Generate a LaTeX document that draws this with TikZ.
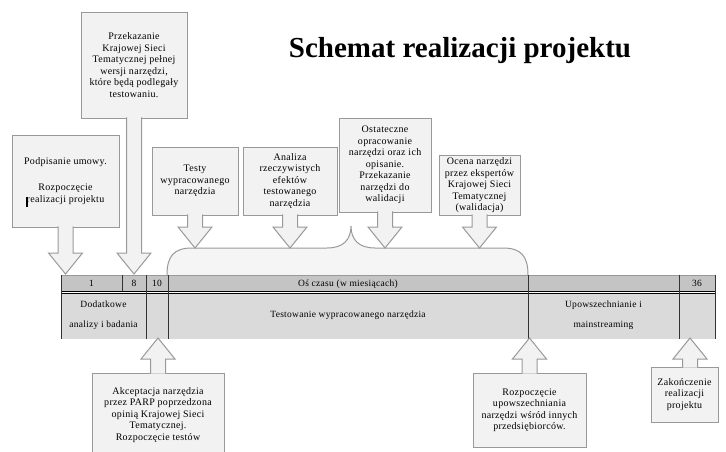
\documentclass[tikz,border=0pt]{standalone}
\usepackage{fontspec}
\setmainfont{Liberation Serif}[LetterSpace=3]
\newfontfamily\titlefont{Liberation Serif}
\usetikzlibrary{calc}
\definecolor{boxfill}{HTML}{F2F2F2}
\definecolor{boxline}{HTML}{999999}
\definecolor{axisfill}{HTML}{C4C4C4}
\definecolor{rowfill}{HTML}{DADADA}
\definecolor{bracefill}{HTML}{F5F5F5}
\definecolor{tabline}{HTML}{333333}
\newcommand{\blockarrow}[2]{%
  \path ($(#1)!-1.2pt!(#2)$) coordinate (hs) ($(#2)!21pt!(#1)$) coordinate (hb);
  \path[barrow] ($(hs)!7.5pt!90:(#2)$) -- ($(hb)!7.5pt!90:(#2)$) -- ($(hb)!17pt!90:(#2)$) -- (#2)
    -- ($(hb)!17pt!-90:(#2)$) -- ($(hb)!7.5pt!-90:(#2)$) -- ($(hs)!7.5pt!-90:(#2)$);}

\begin{document}
\begin{tikzpicture}[x=1pt,y=-1pt,
  box/.style={draw=boxline,fill=boxfill,line width=1pt,align=center,inner sep=2pt,font=\fontsize{10}{11.5}\selectfont},
  barrow/.style={draw=boxline,fill=boxfill,line width=1pt,line join=miter},
  cell/.style={font=\fontsize{9.5}{11}\selectfont,inner sep=1pt,align=center},
  axcell/.style={cell,anchor=base},
  tline/.style={draw=tabline,line width=1pt}]
\clip (0,0) rectangle (726,451);
\node[font=\titlefont\bfseries\fontsize{29}{31}\selectfont] (title) at (460,51) {Schemat realizacji projektu};

\draw[draw=boxline,fill=bracefill,line width=1pt] (167,275) .. controls (167,256) and (174,248) .. (192,248) -- (327,248)
  .. controls (343,248) and (351,240) .. (351,226) .. controls (351,240) and (359,248) .. (375,248) -- (503,248)
  .. controls (521,248) and (528,256) .. (528,275);

\fill[axisfill] (61,275) rectangle (715,291);
\fill[rowfill] (61,293.5) rectangle (715,339);
\draw[boxline,line width=0.6pt] (61,275) -- (715,275);
\draw[black,line width=1pt] (61,291) -- (715,291) (61,293.8) -- (715,293.8);
\foreach \cx in {61,146,168,528,679,715}
  \draw[tline] (\cx,275) -- (\cx,339);
\draw[tline] (122,275) -- (122,291);

\node[axcell] (n1) at (91.5,286.5) {1};
\node[axcell] (n8) at (134,286.5) {8};
\node[axcell] (n10) at (157,286.5) {10};
\node[axcell] (nos) at (348,286.5) {Oś czasu (w miesiącach)};
\node[axcell] (n36) at (697,286.5) {36};
\node[cell,font=\fontsize{9.5}{20}\selectfont] (rdod) at (103.5,315) {Dodatkowe\\analizy i badania};
\node[cell] (rtest) at (348,315) {Testowanie wypracowanego narzędzia};
\node[cell,font=\fontsize{9.5}{20}\selectfont] (rupo) at (603.5,315) {Upowszechnianie i\\mainstreaming};

\coordinate (tabtop) at (0,274);
\coordinate (brtop) at (0,248);
\coordinate (tabbot) at (0,338);
\coordinate (t36) at (690,338);

\node[box,minimum width=107,minimum height=92] (pod) at (65.5,181) {Podpisanie umowy.\\[15pt]Rozpoczęcie\\realizacji projektu};
\node[box,minimum width=106,minimum height=106] (prz) at (134,65) {Przekazanie\\Krajowej Sieci\\Tematycznej pełnej\\wersji narzędzi,\\które będą podlegały\\testowaniu.};
\node[box,minimum width=86,minimum height=68] (tst) at (195,181) {Testy\\wypracowanego\\narzędzia};
\node[box,minimum width=94,minimum height=68] (ana) at (290,181) {Analiza\\rzeczywistych\\efektów\\testowanego\\narzędzia};
\node[box,minimum width=92,minimum height=94] (ost) at (385,165) {Ostateczne\\opracowanie\\narzędzi oraz ich\\opisanie.\\Przekazanie\\narzędzi do\\walidacji};
\node[box,minimum width=81,minimum height=57] (oce) at (479.5,185.5) {Ocena narzędzi\\przez ekspertów\\Krajowej Sieci\\Tematycznej\\(walidacja)};
\node[box,minimum width=132,minimum height=84] (akc) at (158,415) {Akceptacja narzędzia\\przez PARP poprzedzona\\opinią Krajowej Sieci\\Tematycznej.\\Rozpoczęcie testów};
\node[box,minimum width=113,minimum height=74] (roz) at (529.5,410) {Rozpoczęcie\\upowszechniania\\narzędzi wśród innych\\przedsiębiorców.};
\node[box,minimum width=67,minimum height=55] (zak) at (684.5,394.5) {Zakończenie\\realizacji\\projektu};
\draw[black,line width=1.3pt] (27,197) -- (27,207);

\blockarrow{pod.south}{pod.south |- tabtop}
\blockarrow{prz.south}{prz.south |- tabtop}
\blockarrow{tst.south}{tst.south |- brtop}
\blockarrow{ana.south}{ana.south |- brtop}
\blockarrow{ost.south}{ost.south |- brtop}
\blockarrow{oce.south}{oce.south |- brtop}
\blockarrow{akc.north}{akc.north |- tabbot}
\blockarrow{roz.north}{roz.north |- tabbot}
\blockarrow{zak.north -| t36}{t36}
\end{tikzpicture}
\end{document}
